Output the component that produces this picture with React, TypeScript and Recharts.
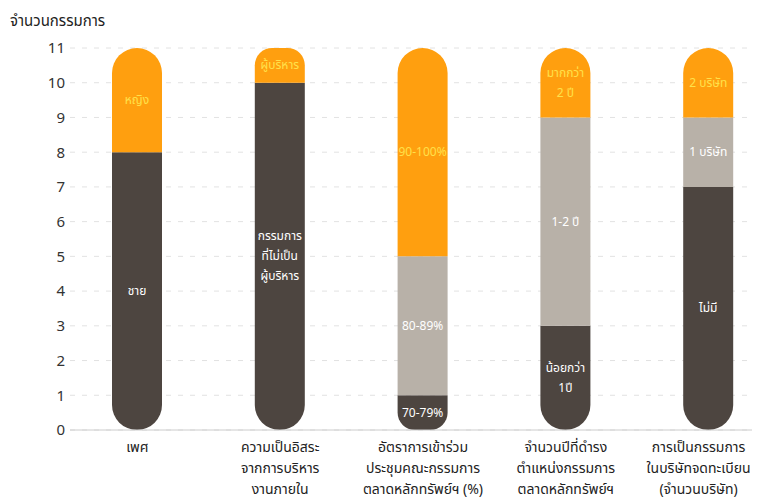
import { BarChart, Bar, XAxis, YAxis, CartesianGrid, LabelList } from "recharts";

const categories = ["gender", "independence", "attendance", "tenure", "listed"];
const categoryLines = [
  ["เพศ"],
  ["ความเป็นอิสระ", "จากการบริหาร", "งานภายใน"],
  ["อัตราการเข้าร่วม", "ประชุมคณะกรรมการ", "ตลาดหลักทรัพย์ฯ (%)"],
  ["จำนวนปีที่ดำรง", "ตำแหน่งกรรมการ", "ตลาดหลักทรัพย์ฯ"],
  ["การเป็นกรรมการ", "ในบริษัทจดทะเบียน", "(จำนวนบริษัท)"],
];

const bottomValues = [8, 10, 1, 3, 7];
const middleValues = [0, 0, 4, 6, 2];
const topValues = [3, 1, 6, 2, 2];

const bottomLabels = ["ชาย", "กรรมการ\nที่ไม่เป็น\nผู้บริหาร", "70-79%", "น้อยกว่า\n1ปี", "ไม่มี"];
const middleLabels = ["", "", "80-89%", "1-2 ปี", "1 บริษัท"];
const topLabels = ["หญิง", "ผู้บริหาร", "90-100%", "มากกว่า\n2 ปี", "2 บริษัท"];

const yTicks = [0, 1, 2, 3, 4, 5, 6, 7, 8, 9, 10, 11];

const data = categories.map((c, i) => ({
  name: c,
  bottom: bottomValues[i],
  middle: middleValues[i],
  top: topValues[i],
  bottomLabel: bottomLabels[i],
  middleLabel: middleLabels[i],
  topLabel: topLabels[i],
}));

const FONT = "'Noto Sans', 'Noto Sans Thai', sans-serif";

const XTick = ({ x, y, payload }: any) => {
  const lines = categoryLines[payload.index] || [];
  // last label sits near the right edge, nudge it in a bit
  const cx = payload.index === categories.length - 1 ? x - 10 : x;
  return (
    <text x={cx} y={y + 14} textAnchor="middle" fontSize={14} fill="#222" fontFamily={FONT}>
      {lines.map((l, i) => (
        <tspan key={i} x={cx} dy={i === 0 ? 0 : 21}>
          {l}
        </tspan>
      ))}
    </text>
  );
};

const segLabel = (color: string) => (props: any) => {
  const { x, y, width, height, value } = props;
  if (!value) return null;
  const lines = String(value).split("\n");
  const cx = x + width / 2;
  const cy = y + height / 2;
  const lh = 20;
  const start = cy - ((lines.length - 1) * lh) / 2;
  return (
    <text textAnchor="middle" fontSize={12} fill={color} fontFamily={FONT}>
      {lines.map((l, i) => (
        <tspan key={i} x={cx} y={start + i * lh + 4}>
          {l}
        </tspan>
      ))}
    </text>
  );
};

export default function App() {
  return (
    <div style={{ position: "relative", width: 752, height: 492, fontFamily: FONT }}>
      <div style={{ position: "absolute", left: 2, top: 2, fontSize: 15, color: "#222" }}>จำนวนกรรมการ</div>
      <BarChart
        width={752}
        height={492}
        data={data}
        margin={{ top: 40, right: 0, bottom: 0, left: 0 }}
      >
        <CartesianGrid vertical={false} stroke="#e2e2e2" strokeDasharray="5 7" />
        <XAxis
          dataKey="name"
          height={70}
          tick={<XTick />}
          tickLine={false}
          axisLine={{ stroke: "#ccc" }}
          padding={{ left: -4, right: -20 }}
          interval={0}
        />
        <YAxis
          width={62}
          domain={[0, 11]}
          ticks={yTicks}
          interval={0}
          axisLine={false}
          tickLine={false}
          tickSize={0}
          tickMargin={5}
          tick={{ fontSize: 15, fill: "#333", fontFamily: FONT }}
        />
        <Bar dataKey="bottom" stackId="a" fill="#4d4540" barSize={50} radius={[0, 0, 25, 25]} isAnimationActive={false}>
          <LabelList dataKey="bottomLabel" content={segLabel("#ffffff")} />
        </Bar>
        <Bar dataKey="middle" stackId="a" fill="#b8b1a8" barSize={50} isAnimationActive={false}>
          <LabelList dataKey="middleLabel" content={segLabel("#ffffff")} />
        </Bar>
        <Bar dataKey="top" stackId="a" fill="#ff9f0f" barSize={50} radius={[25, 25, 0, 0]} isAnimationActive={false}>
          <LabelList dataKey="topLabel" content={segLabel("#ffe14a")} />
        </Bar>
      </BarChart>
    </div>
  );
}
